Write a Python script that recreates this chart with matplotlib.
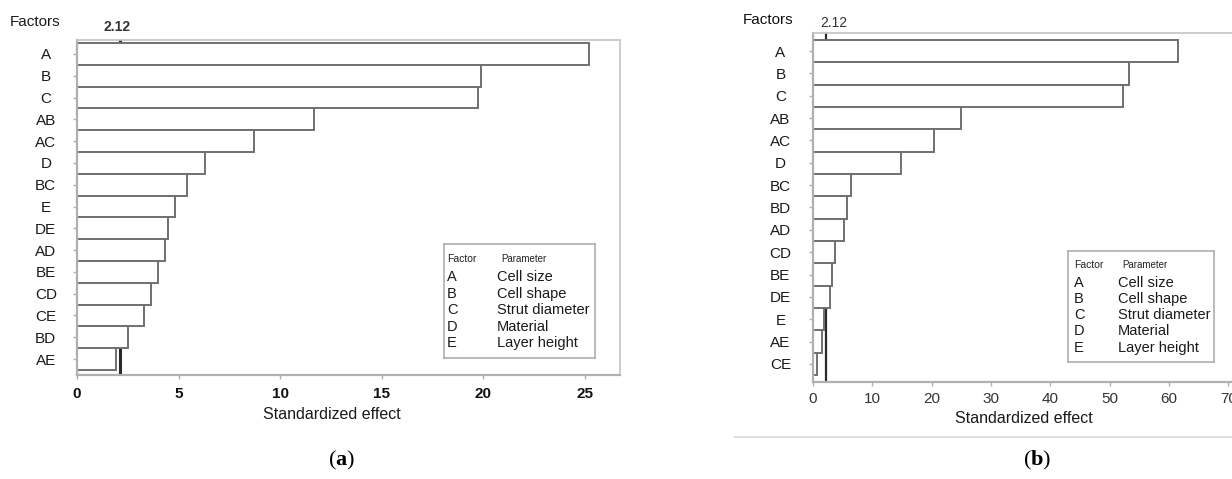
import matplotlib
matplotlib.use('Agg')
import matplotlib.pyplot as plt
from matplotlib.lines import Line2D

plt.rcParams['font.family'] = ['Liberation Sans', 'DejaVu Sans']
plt.rcParams['mathtext.fontset'] = 'custom'
plt.rcParams['mathtext.rm'] = 'Liberation Serif'
plt.rcParams['mathtext.bf'] = 'Liberation Serif:bold'

# dados
fatores_a = ['A', 'B', 'C', 'AB', 'AC', 'D', 'BC', 'E', 'DE', 'AD', 'BE', 'CD', 'CE', 'BD', 'AE']
efeitos_a = [25.2, 19.9, 19.75, 11.65, 8.7, 6.3, 5.4, 4.8, 4.5, 4.35, 4.0, 3.65, 3.3, 2.5, 1.9]

fatores_b = ['A', 'B', 'C', 'AB', 'AC', 'D', 'BC', 'BD', 'AD', 'CD', 'BE', 'DE', 'E', 'AE', 'CE']
efeitos_b = [61.6, 53.2, 52.3, 25.0, 20.4, 14.8, 6.4, 5.8, 5.2, 3.7, 3.2, 2.8, 1.9, 1.5, 0.6]

limiar = 2.12
ticks_a = [0, 5, 10, 15, 20, 25]
ticks_b = [0, 10, 20, 30, 40, 50, 60, 70]

legenda_fatores = ['A', 'B', 'C', 'D', 'E']
legenda_param = ['Cell size', 'Cell shape', 'Strut diameter', 'Material', 'Layer height']

W, H = 1232, 479
fig = plt.figure(figsize=(W / 100, H / 100), dpi=100)


def pos(x0, y0, x1, y1):
    # caixa em pixels (topo-esquerda) -> coordenadas da figura
    return [x0 / W, 1 - y1 / H, (x1 - x0) / W, (y1 - y0) / H]


def painel(rect, fatores, efeitos, xlim, ylim, ticks, negrito, lw_ref,
           pad_y, pad_x, coords_label):
    ax = fig.add_axes(rect)
    ys = list(range(len(fatores)))
    ax.axvline(limiar, color='#2a2a2a', lw=lw_ref, zorder=1)
    ax.barh(ys, efeitos, height=1.0, color='white', edgecolor='#707070',
            linewidth=1.4, zorder=2)
    ax.set_xlim(*xlim)
    ax.set_ylim(*ylim)
    ax.set_yticks(ys)
    ax.set_yticklabels(fatores, fontsize=11, color='#1a1a1a', ha='center')
    ax.set_xticks(ticks)
    ax.set_xticklabels([str(t) for t in ticks], fontsize=11,
                       fontweight='bold' if negrito else 'normal',
                       color='#111111' if negrito else '#333333')
    ax.tick_params(axis='both', length=3, width=1, color='#b0b0b0')
    ax.tick_params(axis='y', pad=pad_y)
    ax.tick_params(axis='x', pad=pad_x)
    for lado in ['left', 'bottom']:
        ax.spines[lado].set_color('#b0b0b0')
        ax.spines[lado].set_linewidth(1.6)
    for lado in ['top', 'right']:
        ax.spines[lado].set_color('#c4c4c4')
        ax.spines[lado].set_linewidth(1.2)
    ax.set_xlabel('Standardized effect', fontsize=11.5, color='#1a1a1a', va='center')
    ax.xaxis.set_label_coords(*coords_label)
    return ax


def legenda(rect, xs_letra, xs_param):
    lg = fig.add_axes(rect)
    lg.set_xticks([])
    lg.set_yticks([])
    for s in lg.spines.values():
        s.set_color('#a8a8a8')
        s.set_linewidth(1.1)
    lg.text(xs_letra, 0.87, 'Factor', fontsize=7.5, color='#222222',
            transform=lg.transAxes, va='center')
    lg.text(xs_param + 0.03, 0.87, 'Parameter', fontsize=7, color='#222222',
            transform=lg.transAxes, va='center')
    for i, (f, p) in enumerate(zip(legenda_fatores, legenda_param)):
        yy = 0.71 - i * 0.145
        lg.text(xs_letra, yy, f, fontsize=10.5, color='#1a1a1a',
                transform=lg.transAxes, va='center')
        lg.text(xs_param, yy, p, fontsize=10.5, color='#1a1a1a',
                transform=lg.transAxes, va='center')
    return lg


# painel (a)
ax_a = painel(pos(77, 40, 620, 375), fatores_a, efeitos_a, (0, 26.72),
              (14.73, -0.64), ticks_a, True, 2.2, 19.5, 5.5, (0.47, -0.119))
legenda(pos(444, 244, 595, 358), 0.02, 0.35)
fig.text(10 / W, 1 - 22 / H, 'Factors', fontsize=11, color='#1a1a1a', va='center')
fig.text(117 / W, 1 - 27 / H, '2.12', fontsize=10, color='#333333',
         fontweight='bold', va='center', ha='center')
fig.text(342 / W, 1 - 460 / H, r'($\mathbf{a}$)', fontsize=16,
         family='Liberation Serif', ha='center', va='center')

# painel (b)
ax_b = painel(pos(813, 33, 1258, 382), fatores_b, efeitos_b, (0, 75.0),
              (14.81, -0.81), ticks_b, False, 1.6, 20.5, 4.5, (0.474, -0.106))
legenda(pos(1068, 251, 1214, 362), 0.04, 0.34)
fig.text(743 / W, 1 - 20 / H, 'Factors', fontsize=11, color='#111111', va='center')
fig.text(834 / W, 1 - 23 / H, '2.12', fontsize=10, color='#333333',
         va='center', ha='center')
fig.text(1037 / W, 1 - 460 / H, r'($\mathbf{b}$)', fontsize=16,
         family='Liberation Serif', ha='center', va='center')
fig.add_artist(Line2D([735 / W, 1.0], [1 - 437 / H, 1 - 437 / H],
                      color='#dddddd', lw=1.5, transform=fig.transFigure))

fig.savefig('out.png', dpi=100)
